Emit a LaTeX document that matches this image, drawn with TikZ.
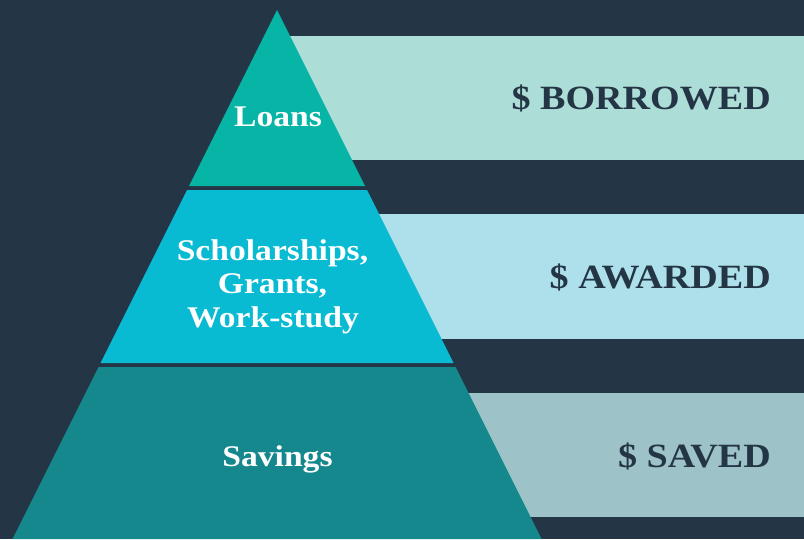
\documentclass[tikz,border=0pt]{standalone}
\usepackage{fontspec}
\newfontfamily\labfont[FakeStretch=1.12]{Liberation Serif}
\definecolor{bgc}{HTML}{243646}
\definecolor{topc}{HTML}{06B5A6}
\definecolor{midc}{HTML}{09BAD3}
\definecolor{botc}{HTML}{14888C}
\definecolor{rtop}{HTML}{ADDDD7}
\definecolor{rmid}{HTML}{ADE0EA}
\definecolor{rbot}{HTML}{9DC3C8}
\tikzset{
  pyrlab/.style={text=white, font=\labfont\bfseries\fontsize{30}{34}\selectfont, inner sep=0pt, anchor=base},
  amtlab/.style={text=bgc, font=\labfont\bfseries\fontsize{34}{40}\selectfont, inner sep=0pt, anchor=base east},
}
\begin{document}
\begin{tikzpicture}[x=1pt,y=-1pt]
\fill[bgc] (0,0) rectangle (804,539);
\useasboundingbox (0,0) rectangle (804,539);
% right bars
\fill[rtop] (280,36) rectangle (804,160);
\fill[rmid] (280,214) rectangle (804,339);
\fill[rbot] (280,393) rectangle (804,517);
% pyramid
\fill[topc] (277,10) -- (365,186) -- (189,186) -- cycle;
\fill[midc] (187,190) -- (367,190) -- (453.5,363) -- (100.5,363) -- cycle;
\fill[botc] (98.5,367) -- (455.5,367) -- (541.5,539) -- (12.5,539) -- cycle;
% labels
\node[pyrlab] (loans) at (278,126) {Loans};
\node[pyrlab] (sch1) at (272.5,260) {Scholarships,};
\node[pyrlab] (sch2) at (272.5,293.5) {Grants,};
\node[pyrlab] (sch3) at (273,327) {Work-study};
\node[pyrlab] (sav) at (277.5,466.5) {Savings};
\node[amtlab] (bor) at (771,109.5) {\$ BORROWED};
\node[amtlab] (awd) at (771,288) {\$ AWARDED};
\node[amtlab] (svd) at (771,467) {\$ SAVED};
\end{tikzpicture}
\end{document}
